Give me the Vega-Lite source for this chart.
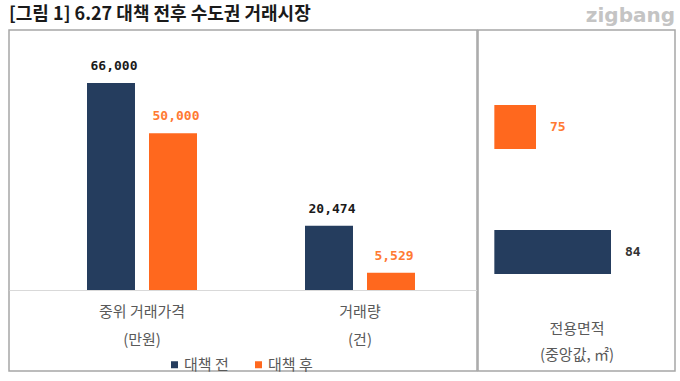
{
  "$schema": "https://vega.github.io/schema/vega-lite/v6.json",
  "padding": {"left": 8, "top": 5, "right": 4, "bottom": 5},
  "background": "white",
  "datasets": {
    "market": [
      {"metric": "중위 거래가격", "period": "대책 전", "value": 66000},
      {"metric": "중위 거래가격", "period": "대책 후", "value": 50000},
      {"metric": "거래량", "period": "대책 전", "value": 20474},
      {"metric": "거래량", "period": "대책 후", "value": 5529}
    ],
    "area": [
      {"metric": "전용면적", "period": "대책 전", "value": 84},
      {"metric": "전용면적", "period": "대책 후", "value": 75}
    ]
  },
  "spacing": -2,
  "hconcat": [
    {
      "title": {"text": "[그림 1] 6.27 대책 전후 수도권 거래시장", "anchor": "start", "frame": "group", "font": "Noto Sans CJK KR", "fontSize": 18, "fontWeight": "bold", "color": "#1a1a1a", "offset": 6},
      "width": 468,
      "height": 341,
      "data": {"name": "market"},
      "encoding": {
        "x": {
          "field": "metric", "type": "nominal", "sort": ["중위 거래가격", "거래량"],
          "scale": {"paddingInner": 0, "paddingOuter": 0.0734, "align": 0.75},
          "axis": {
            "orient": "bottom", "offset": -81, "title": null, "ticks": false,
            "domain": true, "domainColor": "#d9d9d9", "domainWidth": 1,
            "labelAngle": 0, "labelPadding": 14, "labelBaseline": "top",
            "labelFont": "Noto Sans CJK KR", "labelFontSize": 15, "labelColor": "#595959",
            "labelLineHeight": 28,
            "labelExpr": "datum.value == '중위 거래가격' ? ['중위 거래가격', '(만원)'] : ['거래량', '(건)']"
          }
        },
        "xOffset": {
          "field": "period", "type": "nominal", "sort": ["대책 전", "대책 후"],
          "scale": {"paddingInner": 0.226, "paddingOuter": 0.871}
        },
        "y": {
          "field": "value", "type": "quantitative",
          "scale": {"domain": [-25826, 82898], "nice": false, "zero": false},
          "axis": null
        }
      },
      "layer": [
        {
          "mark": {"type": "bar"},
          "encoding": {
            "y2": {"datum": 0},
            "color": {
              "field": "period", "type": "nominal",
              "scale": {"domain": ["대책 전", "대책 후"], "range": ["#253d5e", "#ff681e"]},
              "legend": {
                "title": null, "orient": "none", "legendX": 158, "legendY": 327,
                "direction": "horizontal", "symbolType": "square", "symbolSize": 49,
                "symbolStrokeWidth": 0, "labelFont": "Noto Sans CJK KR", "labelFontSize": 15,
                "labelColor": "#595959", "labelOffset": 2, "columnPadding": 22
              }
            }
          }
        },
        {
          "mark": {"type": "text", "baseline": "bottom", "dy": -10, "dx": 3, "font": "DejaVu Sans Mono", "fontSize": 13, "fontWeight": "bold"},
          "encoding": {
            "text": {"field": "value", "type": "quantitative", "format": ","},
            "fill": {
              "field": "period", "type": "nominal",
              "scale": {"domain": ["대책 전", "대책 후"], "range": ["#1a1a1a", "#ff7a33"]},
              "legend": null
            }
          }
        }
      ]
    },
    {
      "title": {"text": "zigbang", "anchor": "end", "frame": "group", "font": "DejaVu Sans", "fontSize": 20, "fontWeight": "bold", "color": "#c4c4c4", "offset": 4},
      "width": 197,
      "height": 341,
      "data": {"name": "area"},
      "encoding": {
        "y": {
          "field": "period", "type": "nominal", "sort": ["대책 후", "대책 전"],
          "scale": {"paddingInner": 0.648, "paddingOuter": 0.688, "align": 0.436},
          "axis": null
        },
        "x": {
          "field": "value", "type": "quantitative",
          "scale": {"domain": [68.04, 91.68], "nice": false, "zero": false},
          "axis": {
            "orient": "bottom", "offset": -60, "domain": false, "ticks": false, "labels": false, "grid": false,
            "title": ["전용면적", "(중앙값, ㎡)"], "titlePadding": 10, "titleBaseline": "top",
            "titleFont": "Noto Sans CJK KR", "titleFontSize": 15, "titleFontWeight": "normal",
            "titleColor": "#595959", "titleLineHeight": 26
          }
        }
      },
      "layer": [
        {
          "mark": {"type": "bar"},
          "encoding": {
            "x2": {"datum": 70},
            "color": {
              "field": "period", "type": "nominal",
              "scale": {"domain": ["대책 전", "대책 후"], "range": ["#253d5e", "#ff681e"]},
              "legend": null
            }
          }
        },
        {
          "mark": {"type": "text", "align": "left", "baseline": "middle", "dx": 14, "font": "DejaVu Sans Mono", "fontSize": 13, "fontWeight": "bold"},
          "encoding": {
            "text": {"field": "value", "type": "quantitative"},
            "fill": {
              "field": "period", "type": "nominal",
              "scale": {"domain": ["대책 전", "대책 후"], "range": ["#333333", "#ff7a33"]},
              "legend": null
            }
          }
        }
      ]
    }
  ],
  "resolve": {"scale": {"color": "independent", "fill": "independent"}, "legend": {"color": "independent", "fill": "independent"}},
  "config": {
    "view": {"stroke": "#a6a6a6", "strokeWidth": 1.5},
    "axis": {"grid": false}
  }
}
